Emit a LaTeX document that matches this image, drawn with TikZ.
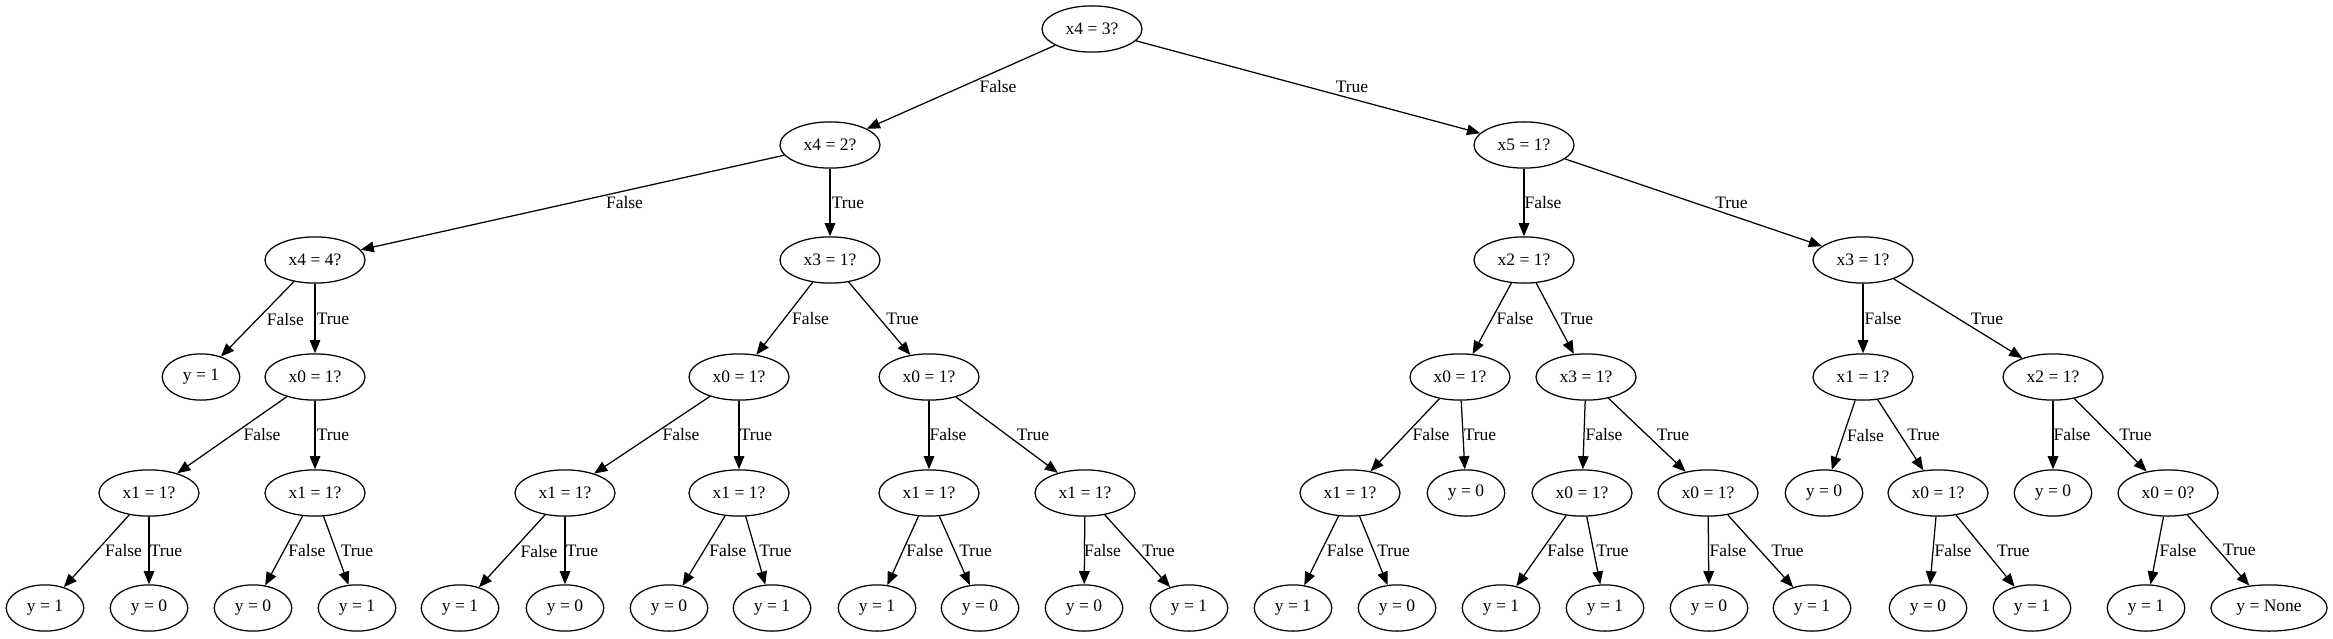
\documentclass[tikz,border=0pt]{standalone}
\usepackage{fontspec}
\setmainfont{Liberation Serif}
\usetikzlibrary{arrows.meta, shapes.geometric}
\tikzset{
    test/.style={ellipse, draw, line width=1pt, minimum height=37pt, minimum width=80pt,
                 inner sep=0pt, font=\fontsize{14}{16}\selectfont},
    leaf/.style={test, minimum width=62pt},
    wideleaf/.style={test, minimum width=93pt},
    edge/.style={-{Triangle[length=10.5pt, width=8.5pt]}, line width=1pt},
    lbl/.style={font=\fontsize{14}{16}\selectfont, inner sep=0pt},
}

\begin{document}
\begin{tikzpicture}[x=0.8pt, y=-0.8pt]
    \useasboundingbox (0,0) rectangle (2333,639);
    % level 0 and 1
    \node[test] (r) at (1092,29) {x4 = 3?};
    \node[test] (rf) at (830,145) {x4 = 2?};
    \node[test] (rt) at (1524,145) {x5 = 1?};
    % level 2
    \node[test] (rff) at (315,260) {x4 = 4?};
    \node[test] (rft) at (830,260) {x3 = 1?};
    \node[test] (rtf) at (1524,260) {x2 = 1?};
    \node[test] (rtt) at (1863,260) {x3 = 1?};
    % level 3
    \node[leaf] (rfff) at (201,377) {y = 1};
    \node[test] (rfft) at (315,377) {x0 = 1?};
    \node[test] (rftf) at (739,377) {x0 = 1?};
    \node[test] (rftt) at (929,377) {x0 = 1?};
    \node[test] (rtff) at (1460,377) {x0 = 1?};
    \node[test] (rtft) at (1586,377) {x3 = 1?};
    \node[test] (rttf) at (1863,377) {x1 = 1?};
    \node[test] (rttt) at (2053,377) {x2 = 1?};
    % level 4
    \node[test] (rfftf) at (149,493) {x1 = 1?};
    \node[test] (rfftt) at (315,493) {x1 = 1?};
    \node[test] (rftff) at (565,493) {x1 = 1?};
    \node[test] (rftft) at (739,493) {x1 = 1?};
    \node[test] (rfttf) at (929,493) {x1 = 1?};
    \node[test] (rfttt) at (1085,493) {x1 = 1?};
    \node[test] (rtfff) at (1350,493) {x1 = 1?};
    \node[leaf] (rtfft) at (1466,493) {y = 0};
    \node[test] (rtftf) at (1582,493) {x0 = 1?};
    \node[test] (rtftt) at (1708,493) {x0 = 1?};
    \node[leaf] (rttff) at (1824,493) {y = 0};
    \node[test] (rttft) at (1938,493) {x0 = 1?};
    \node[leaf] (rtttf) at (2053,493) {y = 0};
    \node[test] (rtttt) at (2168,493) {x0 = 0?};
    % level 5
    \node[leaf] (rfftff) at (45,608) {y = 1};
    \node[leaf] (rfftft) at (149,608) {y = 0};
    \node[leaf] (rffttf) at (253,608) {y = 0};
    \node[leaf] (rffttt) at (357,608) {y = 1};
    \node[leaf] (rftfff) at (460,608) {y = 1};
    \node[leaf] (rftfft) at (565,608) {y = 0};
    \node[leaf] (rftftf) at (669,608) {y = 0};
    \node[leaf] (rftftt) at (772,608) {y = 1};
    \node[leaf] (rfttff) at (877,608) {y = 1};
    \node[leaf] (rfttft) at (980,608) {y = 0};
    \node[leaf] (rftttf) at (1084,608) {y = 0};
    \node[leaf] (rftttt) at (1189,608) {y = 1};
    \node[leaf] (rtffff) at (1293,608) {y = 1};
    \node[leaf] (rtffft) at (1397,608) {y = 0};
    \node[leaf] (rtftff) at (1501,608) {y = 1};
    \node[leaf] (rtftft) at (1605,608) {y = 1};
    \node[leaf] (rtfttf) at (1709,608) {y = 0};
    \node[leaf] (rtfttt) at (1812,608) {y = 1};
    \node[leaf] (rttftf) at (1928,608) {y = 0};
    \node[leaf] (rttftt) at (2032,608) {y = 1};
    \node[leaf] (rttttf) at (2146,608) {y = 1};
    \node[wideleaf] (rttttt) at (2269,608) {y = None};
    % edges
    \draw[edge] (r) -- node[lbl, xshift=29.6pt] {False} (rf);
    \draw[edge] (r) -- node[lbl, xshift=35.2pt] {True} (rt);
    \draw[edge] (rf) -- node[lbl, xshift=41.6pt] {False} (rff);
    \draw[edge] (rf) -- node[lbl, xshift=14.4pt] {True} (rft);
    \draw[edge] (rt) -- node[lbl, xshift=15.2pt] {False} (rtf);
    \draw[edge] (rt) -- node[lbl, xshift=30.4pt] {True} (rtt);
    \draw[edge] (rff) -- node[lbl, xshift=22.4pt] {False} (rfff);
    \draw[edge] (rff) -- node[lbl, xshift=14.4pt] {True} (rfft);
    \draw[edge] (rft) -- node[lbl, xshift=20.8pt] {False} (rftf);
    \draw[edge] (rft) -- node[lbl, xshift=18.4pt] {True} (rftt);
    \draw[edge] (rtf) -- node[lbl, xshift=18.4pt] {False} (rtff);
    \draw[edge] (rtf) -- node[lbl, xshift=17.6pt] {True} (rtft);
    \draw[edge] (rtt) -- node[lbl, xshift=16pt] {False} (rttf);
    \draw[edge] (rtt) -- node[lbl, xshift=23.2pt] {True} (rttt);
    \draw[edge] (rfft) -- node[lbl, xshift=24pt] {False} (rfftf);
    \draw[edge] (rfft) -- node[lbl, xshift=14.4pt] {True} (rfftt);
    \draw[edge] (rftf) -- node[lbl, xshift=23.2pt] {False} (rftff);
    \draw[edge] (rftf) -- node[lbl, xshift=13.6pt] {True} (rftft);
    \draw[edge] (rftt) -- node[lbl, xshift=15.2pt] {False} (rfttf);
    \draw[edge] (rftt) -- node[lbl, xshift=20.8pt] {True} (rfttt);
    \draw[edge] (rtff) -- node[lbl, xshift=20.8pt] {False} (rtfff);
    \draw[edge] (rtff) -- node[lbl, xshift=13.6pt] {True} (rtfft);
    \draw[edge] (rtft) -- node[lbl, xshift=16pt] {False} (rtftf);
    \draw[edge] (rtft) -- node[lbl, xshift=20.8pt] {True} (rtftt);
    \draw[edge] (rttf) -- node[lbl, xshift=17.6pt] {False} (rttff);
    \draw[edge] (rttf) -- node[lbl, xshift=18.4pt] {True} (rttft);
    \draw[edge] (rttt) -- node[lbl, xshift=15.2pt] {False} (rtttf);
    \draw[edge] (rttt) -- node[lbl, xshift=20pt] {True} (rtttt);
    \draw[edge] (rfftf) -- node[lbl, xshift=21.6pt] {False} (rfftff);
    \draw[edge] (rfftf) -- node[lbl, xshift=13.6pt] {True} (rfftft);
    \draw[edge] (rfftt) -- node[lbl, xshift=18.4pt] {False} (rffttf);
    \draw[edge] (rfftt) -- node[lbl, xshift=16.8pt] {True} (rffttt);
    \draw[edge] (rftff) -- node[lbl, xshift=21.6pt] {False} (rftfff);
    \draw[edge] (rftff) -- node[lbl, xshift=13.6pt] {True} (rftfft);
    \draw[edge] (rftft) -- node[lbl, xshift=19.2pt] {False} (rftftf);
    \draw[edge] (rftft) -- node[lbl, xshift=16pt] {True} (rftftt);
    \draw[edge] (rfttf) -- node[lbl, xshift=17.6pt] {False} (rfttff);
    \draw[edge] (rfttf) -- node[lbl, xshift=16.8pt] {True} (rfttft);
    \draw[edge] (rfttt) -- node[lbl, xshift=14.4pt] {False} (rftttf);
    \draw[edge] (rfttt) -- node[lbl, xshift=16.8pt] {True} (rftttt);
    \draw[edge] (rtfff) -- node[lbl, xshift=19.2pt] {False} (rtffff);
    \draw[edge] (rtfff) -- node[lbl, xshift=16pt] {True} (rtffft);
    \draw[edge] (rtftf) -- node[lbl, xshift=19.6pt] {False} (rtftff);
    \draw[edge] (rtftf) -- node[lbl, xshift=15.2pt] {True} (rtftft);
    \draw[edge] (rtftt) -- node[lbl, xshift=15.6pt] {False} (rtfttf);
    \draw[edge] (rtftt) -- node[lbl, xshift=21.6pt] {True} (rtfttt);
    \draw[edge] (rttft) -- node[lbl, xshift=16pt] {False} (rttftf);
    \draw[edge] (rttft) -- node[lbl, xshift=22.4pt] {True} (rttftt);
    \draw[edge] (rtttt) -- node[lbl, xshift=16.8pt] {False} (rttttf);
    \draw[edge] (rtttt) -- node[lbl, xshift=16.8pt] {True} (rttttt);
\end{tikzpicture}
\end{document}
